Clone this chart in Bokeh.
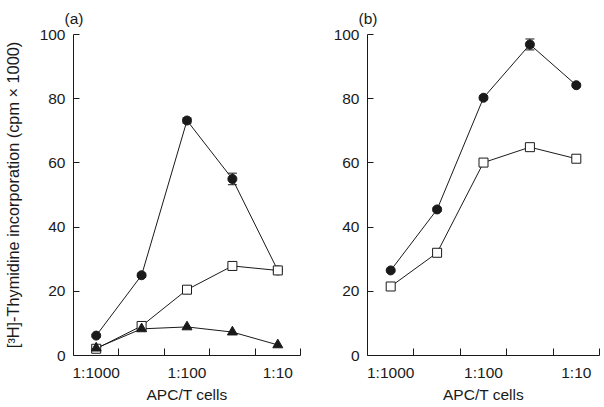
from bokeh.plotting import figure
from bokeh.layouts import row
from bokeh.models import FixedTicker, Whisker, ColumnDataSource, Range1d, Title, TeeHead
from bokeh.embed import file_html
from bokeh.resources import INLINE

# APC/T cell ratio, as log10 of the ratio
apc_log10 = [-3.0, -2.5, -2.0, -1.5, -1.0]
x_label_ticks = [-3.0, -2.0, -1.0]
x_label_texts = ["1:1000", "1:100", "1:10"]
x_mark_ticks = [-2.75, -2.25, -1.75, -1.25, -0.75]
y_ticks = [0, 20, 40, 60, 80, 100]

# panel (a)
a_circle = [6.2, 25.0, 73.2, 55.0, 26.5]
a_circle_err = [0.4, 0.6, 0.8, 1.8, 0.4]
a_square = [2.1, 9.2, 20.5, 27.9, 26.5]
a_triangle = [2.3, 8.3, 8.9, 7.3, 3.3]

# panel (b)
b_circle = [26.5, 45.5, 80.3, 96.9, 84.2]
b_circle_err = [0.4, 0.5, 0.6, 1.7, 0.5]
b_square = [21.5, 32.0, 60.1, 64.9, 61.3]

FONT = "Liberation Sans"
INK = "#1a1a1a"


def make_panel(tag, width, border_left, border_right, ylabel):
    p = figure(width=width, height=407,
               x_range=Range1d(-3.25, -0.75), y_range=Range1d(0, 100),
               output_backend="svg", toolbar_location=None,
               min_border_left=border_left, min_border_right=border_right,
               min_border_top=34, min_border_bottom=52)
    p.outline_line_color = None
    p.grid.visible = False
    p.background_fill_color = "white"
    p.border_fill_color = "white"

    xa = p.xaxis[0]
    xa.ticker = FixedTicker(ticks=x_label_ticks, minor_ticks=x_mark_ticks)
    xa.major_label_overrides = {t: s for t, s in zip(x_label_ticks, x_label_texts)}
    xa.major_tick_in = 0
    xa.major_tick_out = 0
    xa.minor_tick_in = 7
    xa.minor_tick_out = 0
    xa.minor_tick_line_color = INK
    xa.axis_label = "APC/T cells"
    xa.major_label_standoff = 8
    xa.axis_label_standoff = 2

    ya = p.yaxis[0]
    ya.ticker = FixedTicker(ticks=y_ticks)
    ya.major_tick_in = 6
    ya.major_tick_out = 0
    ya.minor_tick_in = 0
    ya.minor_tick_out = 0
    ya.major_label_standoff = 8
    if ylabel:
        ya.axis_label = ylabel
        ya.axis_label_standoff = 15

    for ax in (xa, ya):
        ax.axis_line_color = INK
        ax.major_tick_line_color = INK
        ax.major_label_text_font = FONT
        ax.major_label_text_font_size = "15.5px"
        ax.major_label_text_color = INK
        ax.axis_label_text_font = FONT
        ax.axis_label_text_font_size = "15.5px"
        ax.axis_label_text_font_style = "normal"
        ax.axis_label_text_color = INK
    ya.axis_label_text_font_size = "16.3px"

    t = Title(text=tag, align="left", offset=-9, standoff=15, text_line_height=1.0,
              text_font=FONT, text_font_size="15.5px", text_font_style="normal",
              text_color=INK)
    p.add_layout(t, "above")
    return p


def add_circles(p, ys, errs):
    src = ColumnDataSource(dict(x=apc_log10,
                                upper=[y + e for y, e in zip(ys, errs)],
                                lower=[y - e for y, e in zip(ys, errs)]))
    p.add_layout(Whisker(base="x", upper="upper", lower="lower", source=src,
                         line_color=INK, line_width=1,
                         upper_head=TeeHead(size=9, line_color=INK),
                         lower_head=TeeHead(size=9, line_color=INK)))
    p.line(apc_log10, ys, line_color=INK, line_width=1)


pa = make_panel("(a)", 306, 71, 6,
                "[\u00b3H]-Thymidine incorporation (cpm \u00d7 1000)")
add_circles(pa, a_circle, a_circle_err)
pa.line(apc_log10, a_square, line_color=INK, line_width=1)
pa.line(apc_log10, a_triangle, line_color=INK, line_width=1)
pa.scatter(apc_log10, a_circle, marker="circle", size=9, fill_color=INK, line_color=INK)
pa.scatter(apc_log10, a_square, marker="square", size=9, fill_color="white", line_color=INK, line_width=1)
pa.scatter(apc_log10, a_triangle, marker="triangle", size=10, fill_color=INK, line_color=INK)

pb = make_panel("(b)", 298, 61, 5, None)
add_circles(pb, b_circle, b_circle_err)
pb.line(apc_log10, b_square, line_color=INK, line_width=1)
pb.scatter(apc_log10, b_circle, marker="circle", size=9, fill_color=INK, line_color=INK)
pb.scatter(apc_log10, b_square, marker="square", size=9, fill_color="white", line_color=INK, line_width=1)

layout = row(pa, pb)
open("out.html", "w").write(file_html(layout, INLINE))
